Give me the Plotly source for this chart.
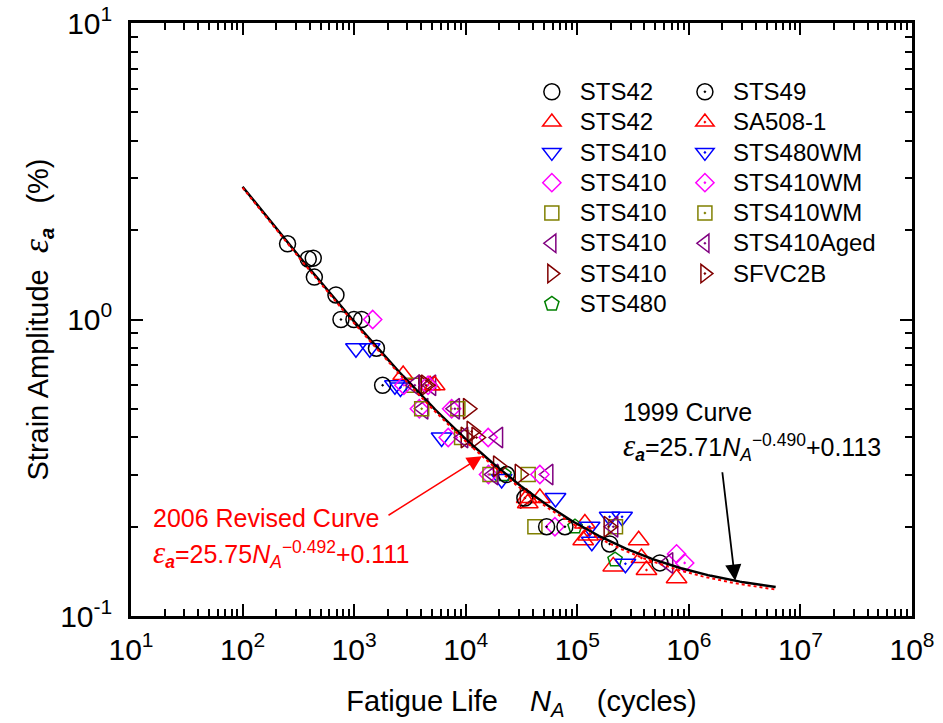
import numpy as np
import plotly.graph_objects as go

# ---- fatigue test data: cycles to failure N_A and strain amplitude (%) ----
sts42_n = [253, 388, 430, 440, 687, 996, 1166, 1585]
sts42_e = [1.80, 1.60, 1.61, 1.39, 1.21, 1.00, 1.00, 0.80]

sts42t_n = [2750, 4790, 35200, 46200, 117000, 113000, 210000, 355000, 776000]
sts42t_e = [0.65, 0.60, 0.25, 0.25, 0.205, 0.18, 0.147, 0.18, 0.134]

sts410d_n = [1038, 1380, 2320, 6080, 21000, 63800, 135000]
sts410d_e = [0.80, 0.80, 0.60, 0.40, 0.29, 0.25, 0.178]

sts410m_n = [1466, 3840, 6970, 15900, 63000, 776000]
sts410m_e = [1.00, 0.50, 0.40, 0.40, 0.20, 0.162]

sts410s_n = [3390, 9180, 36300, 41700]
sts410s_e = [0.60, 0.40, 0.30, 0.20]

sts410l_n = [4900, 4170, 19500, 55000]
sts410l_e = [0.60, 0.50, 0.40, 0.30]

sts410r_n = [4170, 10480, 10000, 30500, 33900]
sts410r_e = [0.60, 0.50, 0.40, 0.30, 0.25]

sts480_n = [22000, 95400, 218000]
sts480_e = [0.30, 0.20, 0.155]

sts49_n = [762, 1800, 23200, 33900, 53100, 77500, 195000, 550000]
sts49_e = [1.00, 0.60, 0.30, 0.25, 0.20, 0.20, 0.175, 0.151]

sa508_n = [5270, 36000, 125000, 376000, 417000]
sa508_e = [0.60, 0.24, 0.187, 0.157, 0.143]

sts480wm_n = [2600, 129000, 195000, 252000, 270000]
sts480wm_e = [0.59, 0.20, 0.216, 0.216, 0.15]

sts410wmd_n = [2790, 4600, 7480, 16000, 46200, 917000]
sts410wmd_e = [0.60, 0.60, 0.50, 0.30, 0.30, 0.151]

sts410wms_n = [4030, 8510, 16500, 220000]
sts410wms_e = [0.50, 0.50, 0.30, 0.20]

aged_n = [3500, 8000, 9500, 17700, 210000, 653000]
aged_e = [0.60, 0.50, 0.40, 0.30, 0.20, 0.151]

sfvc_n = [4400, 11300, 12500, 19500, 191000]
sfvc_e = [0.60, 0.419, 0.40, 0.32, 0.20]

# ---- best-fit curve coefficients: eps = A * N^b + C ----
FIT_1999 = (25.71, -0.490, 0.113)
FIT_2006 = (25.75, -0.492, 0.111)
N_MIN, N_MAX = 100, 6e6

X_TICKS = [10, 100, 1e3, 1e4, 1e5, 1e6, 1e7, 1e8]
X_TICK_TEXT = ["10<sup>%d</sup>" % k for k in range(1, 9)]
Y_TICKS = [0.1, 1, 10]
Y_TICK_TEXT = ["10<sup>-1</sup>", "10<sup>0</sup>", "10<sup>1</sup>"]

FONT = "Arial, Liberation Sans, sans-serif"
SERIF = "Liberation Serif"

def fit(coef, n):
    a, b, c = coef
    return a * np.power(n, b) + c

series = [
    # name, N, eps, symbol, colour, marker size, legend
    ("STS42", sts42_n, sts42_e, "circle-open", "#000000", 16, "legend"),
    ("STS42", sts42t_n, sts42t_e, "triangle-up-open", "#FF0000", 18, "legend"),
    ("STS410", sts410d_n, sts410d_e, "triangle-down-open", "#0000FF", 18, "legend"),
    ("STS410", sts410m_n, sts410m_e, "diamond-open", "#FF00FF", 14, "legend"),
    ("STS410", sts410s_n, sts410s_e, "square-open", "#808000", 14, "legend"),
    ("STS410", sts410l_n, sts410l_e, "triangle-left-open", "#800080", 18, "legend"),
    ("STS410", sts410r_n, sts410r_e, "triangle-right-open", "#800000", 18, "legend"),
    ("STS480", sts480_n, sts480_e, "pentagon-open", "#008000", 15, "legend"),
    ("STS49", sts49_n, sts49_e, "circle-open-dot", "#000000", 16, "legend2"),
    ("SA508-1", sa508_n, sa508_e, "triangle-up-open-dot", "#FF0000", 18, "legend2"),
    ("STS480WM", sts480wm_n, sts480wm_e, "triangle-down-open-dot", "#0000FF", 18, "legend2"),
    ("STS410WM", sts410wmd_n, sts410wmd_e, "diamond-open-dot", "#FF00FF", 14, "legend2"),
    ("STS410WM", sts410wms_n, sts410wms_e, "square-open-dot", "#808000", 14, "legend2"),
    ("STS410Aged", aged_n, aged_e, "triangle-left-open-dot", "#800080", 18, "legend2"),
    ("SFVC2B", sfvc_n, sfvc_e, "triangle-right-open-dot", "#800000", 18, "legend2"),
]

fig = go.Figure()
for name, n, e, sym, col, size, leg in series:
    fig.add_trace(go.Scatter(
        x=n, y=e, mode="markers", legend=leg,
        name="<span style='font-size:24px'>%s</span>" % name,
        marker=dict(symbol=sym, size=size, color=col, line=dict(color=col, width=1.5)),
    ))

n_curve = np.logspace(np.log10(N_MIN), np.log10(N_MAX), 300)
fig.add_trace(go.Scatter(x=n_curve, y=fit(FIT_1999, n_curve), mode="lines",
                         line=dict(color="black", width=2.5), showlegend=False))
fig.add_trace(go.Scatter(x=n_curve, y=fit(FIT_2006, n_curve), mode="lines",
                         line=dict(color="#FF0000", width=2, dash="dot"), showlegend=False))

axis_common = dict(
    type="log", showgrid=False, zeroline=False, showline=True, linewidth=2.5,
    linecolor="black", mirror="allticks", ticks="inside", ticklen=12, tickwidth=2,
    tickcolor="black", tickfont=dict(family=FONT, size=30, color="black"),
    minor=dict(ticks="inside", ticklen=7, tickwidth=1.5, tickcolor="black", showgrid=False),
)

x_minor = [m * 10 ** k for k in range(1, 8) for m in range(2, 10)]
y_minor = [m * 10 ** k for k in range(-1, 1) for m in range(2, 10)]

fig.update_xaxes(**axis_common, range=[1, 8], tickvals=X_TICKS, ticktext=X_TICK_TEXT,
                 ticklabelstandoff=5)
fig.update_xaxes(minor_tickvals=x_minor)
fig.update_yaxes(**axis_common, range=[-1, 1], tickvals=Y_TICKS, ticktext=Y_TICK_TEXT,
                 ticklabelstandoff=10)
fig.update_yaxes(minor_tickvals=y_minor)

NB = "\u00a0"
eps_big = "<span style='font-family:%s;font-size:31px'><i>ε</i></span>" % SERIF
eps_a = eps_big + "<sub><b><i>a</i></b></sub>"
fig.update_xaxes(title=dict(
    text="Fatigue Life" + NB * 4 + "<i>N</i><sub><i>A</i></sub>" + NB * 4 + "(cycles)",
    font=dict(family=FONT, size=29, color="black"), standoff=26))
fig.update_yaxes(title=dict(
    text="Strain Amplitude" + NB * 2
         + "<span style='font-family:%s;font-size:36px'><i>ε</i></span>" % SERIF
         + "<sub><b><i>a</i></b></sub>" + NB * 3 + "(%)",
    font=dict(family=FONT, size=29, color="black"), standoff=4))

legend_style = dict(font=dict(family=FONT, size=21, color="black"),
                    bgcolor="rgba(0,0,0,0)", borderwidth=0, itemwidth=46,
                    yanchor="top", xanchor="left", tracegroupgap=0)
fig.update_layout(
    legend=dict(x=0.503, y=0.918, **legend_style),
    legend2=dict(x=0.699, y=0.918, **legend_style),
)

# curve labels with arrows pointing at the fitted lines
n_red, n_blk = 1.4e4, 2.6e6
ann_font_red = dict(family=FONT, size=25, color="#FF0000")
ann_font_blk = dict(family=FONT, size=25, color="black")
fig.add_annotation(x=np.log10(n_red), y=np.log10(fit(FIT_2006, n_red)), xref="x", yref="y",
                   ax=-95, ay=60, showarrow=True, arrowhead=2, arrowsize=2,
                   arrowwidth=1.5, arrowcolor="#FF0000", text="")
fig.add_annotation(x=np.log10(n_blk), y=np.log10(fit(FIT_1999, n_blk)), xref="x", yref="y",
                   ax=-13, ay=-110, showarrow=True, arrowhead=2, arrowsize=1.8,
                   arrowwidth=1.8, arrowcolor="black", text="")

fig.add_annotation(x=0.026, y=0.166, xref="paper", yref="paper", xanchor="left",
                   yanchor="middle", showarrow=False, font=ann_font_red,
                   text="2006 Revised Curve")
fig.add_annotation(x=0.026, y=0.106, xref="paper", yref="paper", xanchor="left",
                   yanchor="middle", showarrow=False, font=ann_font_red,
                   text=eps_a + "=%.2f<i>N</i><sub><i>A</i></sub><sup>\u2212%.3f</sup>+%.3f"
                   % (FIT_2006[0], -FIT_2006[1], FIT_2006[2]))
fig.add_annotation(x=0.627, y=0.344, xref="paper", yref="paper", xanchor="left",
                   yanchor="middle", showarrow=False, font=ann_font_blk,
                   text="1999 Curve")
fig.add_annotation(x=0.627, y=0.285, xref="paper", yref="paper", xanchor="left",
                   yanchor="middle", showarrow=False, font=ann_font_blk,
                   text=eps_a + "=%.2f<i>N</i><sub><i>A</i></sub><sup>\u2212%.3f</sup>+%.3f"
                   % (FIT_1999[0], -FIT_1999[1], FIT_1999[2]))

fig.update_layout(
    width=943, height=723, plot_bgcolor="white", paper_bgcolor="white",
    margin=dict(l=131, r=31, t=23, b=107, autoexpand=False),
    font=dict(family=FONT, color="black"),
)

fig.write_html("out.html")
